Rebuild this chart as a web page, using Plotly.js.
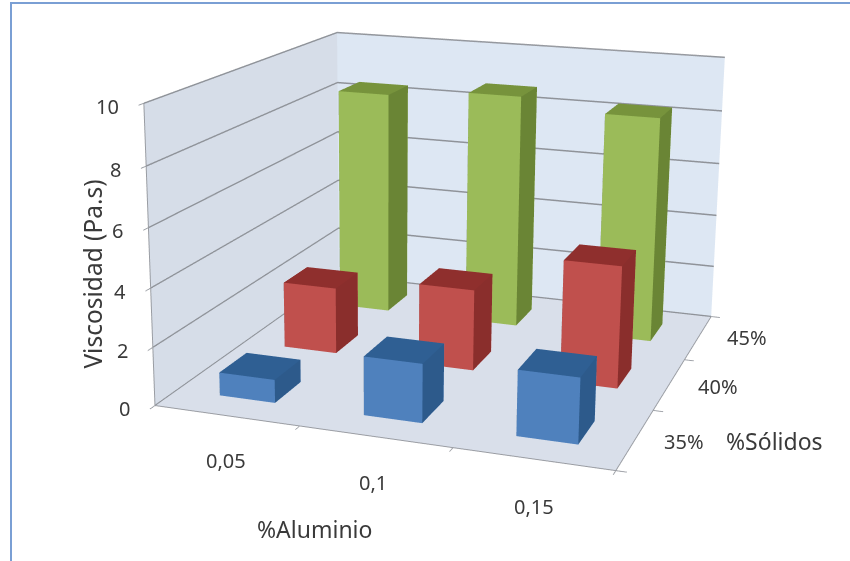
<!DOCTYPE html>
<html><head><meta charset="utf-8">
<script src="https://cdn.plot.ly/plotly-3.0.1.min.js"></script>
<style>
html,body{margin:0;padding:0;background:#fff;width:850px;height:561px;overflow:hidden;position:relative}
#chart{position:absolute;left:-343px;top:-483px;width:1600px;height:1408px}
</style>
</head><body><div id="chart"></div>
<script>
const aluminio = ['0,05', '0,1', '0,15'];
const solidos = ['35%', '40%', '45%'];
const zTicks = [0, 2, 4, 6, 8, 10];
const viscosidad35 = [0.8, 2.0, 2.2];
const viscosidad40 = [2.4, 2.9, 4.3];
const viscosidad45 = [8.4, 8.7, 8.3];
const shades = {
  blue: {front: '#4f81bd', top: '#2f5f93', side: '#2d5a8b'},
  red: {front: '#c0504d', top: '#8f2f2d', side: '#8a2e2c'},
  green: {front: '#9bbb59', top: '#77933c', side: '#6a8535'}
};
const series = [
  {values: viscosidad35, shade: shades.blue},
  {values: viscosidad40, shade: shades.red},
  {values: viscosidad45, shade: shades.green}
];
const halfX = 0.195, halfY = 0.2;
const plotW = 1600, plotH = 1408, offX = 343, offY = 483;
const tickFont = {family: 'Noto Sans, sans-serif', size: 20, color: '#3a3a3a'};
const titleFont = {family: 'Noto Sans, sans-serif', size: 23, color: '#3a3a3a'};
const wallLine = '#9a9da3';

// A closed box with one flat colour per visible orientation.
function box(cx, cy, h, shade) {
  const x0 = cx - halfX, x1 = cx + halfX, y0 = cy - halfY, y1 = cy + halfY;
  const f = shade.front, t = shade.top, s = shade.side;
  return {
    type: 'mesh3d',
    x: [x0, x1, x1, x0, x0, x1, x1, x0],
    y: [y0, y0, y1, y1, y0, y0, y1, y1],
    z: [0, 0, 0, 0, h, h, h, h],
    i: [0, 0, 4, 4, 0, 0, 1, 1, 2, 2, 3, 3],
    j: [1, 2, 5, 6, 1, 5, 2, 6, 3, 7, 0, 4],
    k: [2, 3, 6, 7, 5, 4, 6, 5, 7, 6, 4, 7],
    facecolor: [f, f, t, t, f, f, s, s, f, f, s, s],
    flatshading: true,
    lighting: {ambient: 1, diffuse: 0, specular: 0, roughness: 1, fresnel: 0},
    hoverinfo: 'skip', showscale: false
  };
}

// Straight frame segments of the box, given as a polyline.
function edge(xs, ys, zs) {
  return {type: 'scatter3d', mode: 'lines', x: xs, y: ys, z: zs,
    line: {color: wallLine, width: 2}, hoverinfo: 'skip', showlegend: false};
}

const traces = [];
series.forEach((s, row) => s.values.forEach((v, col) => traces.push(box(col, row, v, s.shade))));
traces.push(edge([-0.5, -0.5, 2.5], [-0.5, 2.5, 2.5], [10, 10, 10]));
traces.push(edge([-0.5, -0.5], [-0.5, -0.5], [0, 10]));
traces.push(edge([-0.5, 2.5, 2.5], [-0.5, -0.5, 2.5], [0, 0, 0]));

function note(text, x, y, z, dx, dy, font, extra) {
  return Object.assign({text, x, y, z, showarrow: false, xshift: dx, yshift: dy, font}, extra || {});
}

const annotations = [];
zTicks.forEach(v => annotations.push(note(String(v), -0.5, -0.5, v, -23, -3, tickFont, {xanchor: 'right'})));
aluminio.forEach((t, i) => annotations.push(note(t, i, -0.5, 0, [0, -2, 1][i], [-45, -46, -48][i], tickFont)));
solidos.forEach((t, i) => annotations.push(note(t, 2.5, i, 0, 49, [-2, -2, 0][i], tickFont)));
annotations.push(note('%Aluminio', 1, -0.5, 0, -61, -92, titleFont));
annotations.push(note('%Sólidos', 2.5, 0.5, 0, 121, -31, titleFont));
annotations.push(note('Viscosidad (Pa.s)', -0.5, -0.5, 5, -58, -16, Object.assign({}, titleFont, {size: 24.5}), {textangle: -90}));

const axisBase = {
  showbackground: true, showticklabels: false, showspikes: false,
  showgrid: false, gridcolor: '#8f9399', gridwidth: 3,
  showline: true, linecolor: wallLine, linewidth: 2,
  zeroline: false, ticks: 'outside', tickcolor: wallLine, ticklen: 8, tickwidth: 2,
  title: {text: ''}
};

const layout = {
  width: plotW, height: plotH,
  margin: {l: 0, r: 0, t: 0, b: 0},
  paper_bgcolor: '#fff',
  showlegend: false,
  scene: {
    domain: {x: [0, 1], y: [0, 1]},
    dragmode: 'orbit',
    aspectmode: 'manual', aspectratio: {x: 1.375, y: 1.4, z: 0.895},
    camera: {eye: {x: 1.606, y: -4.827, z: 1.364}, center: {x: 0, y: 0, z: 0}, up: {x: -0.011, y: -0.0035, z: 1}},
    xaxis: Object.assign({}, axisBase, {
      backgroundcolor: '#d6dde8',
      tickvals: [-0.5, 0.5, 1.5, 2.5], range: [-0.5, 2.5]
    }),
    yaxis: Object.assign({}, axisBase, {
      backgroundcolor: '#dde7f3',
      tickvals: [-0.5, 0.5, 1.5, 2.5], range: [-0.5, 2.5]
    }),
    zaxis: Object.assign({}, axisBase, {
      backgroundcolor: '#d9dfea', showgrid: true,
      range: [0, 10], tickvals: zTicks
    }),
    annotations
  },
  // Window frame running along the top and left of the chart, in page pixels.
  shapes: [{
    type: 'rect', xref: 'paper', yref: 'paper',
    x0: (offX + 11) / plotW, x1: (offX + 870) / plotW,
    y0: 1 - (offY + 580) / plotH, y1: 1 - (offY + 3) / plotH,
    line: {color: '#7a9fd4', width: 2}, fillcolor: 'rgba(0,0,0,0)'
  }]
};

Plotly.newPlot('chart', traces, layout, {displayModeBar: false});
</script></body></html>
